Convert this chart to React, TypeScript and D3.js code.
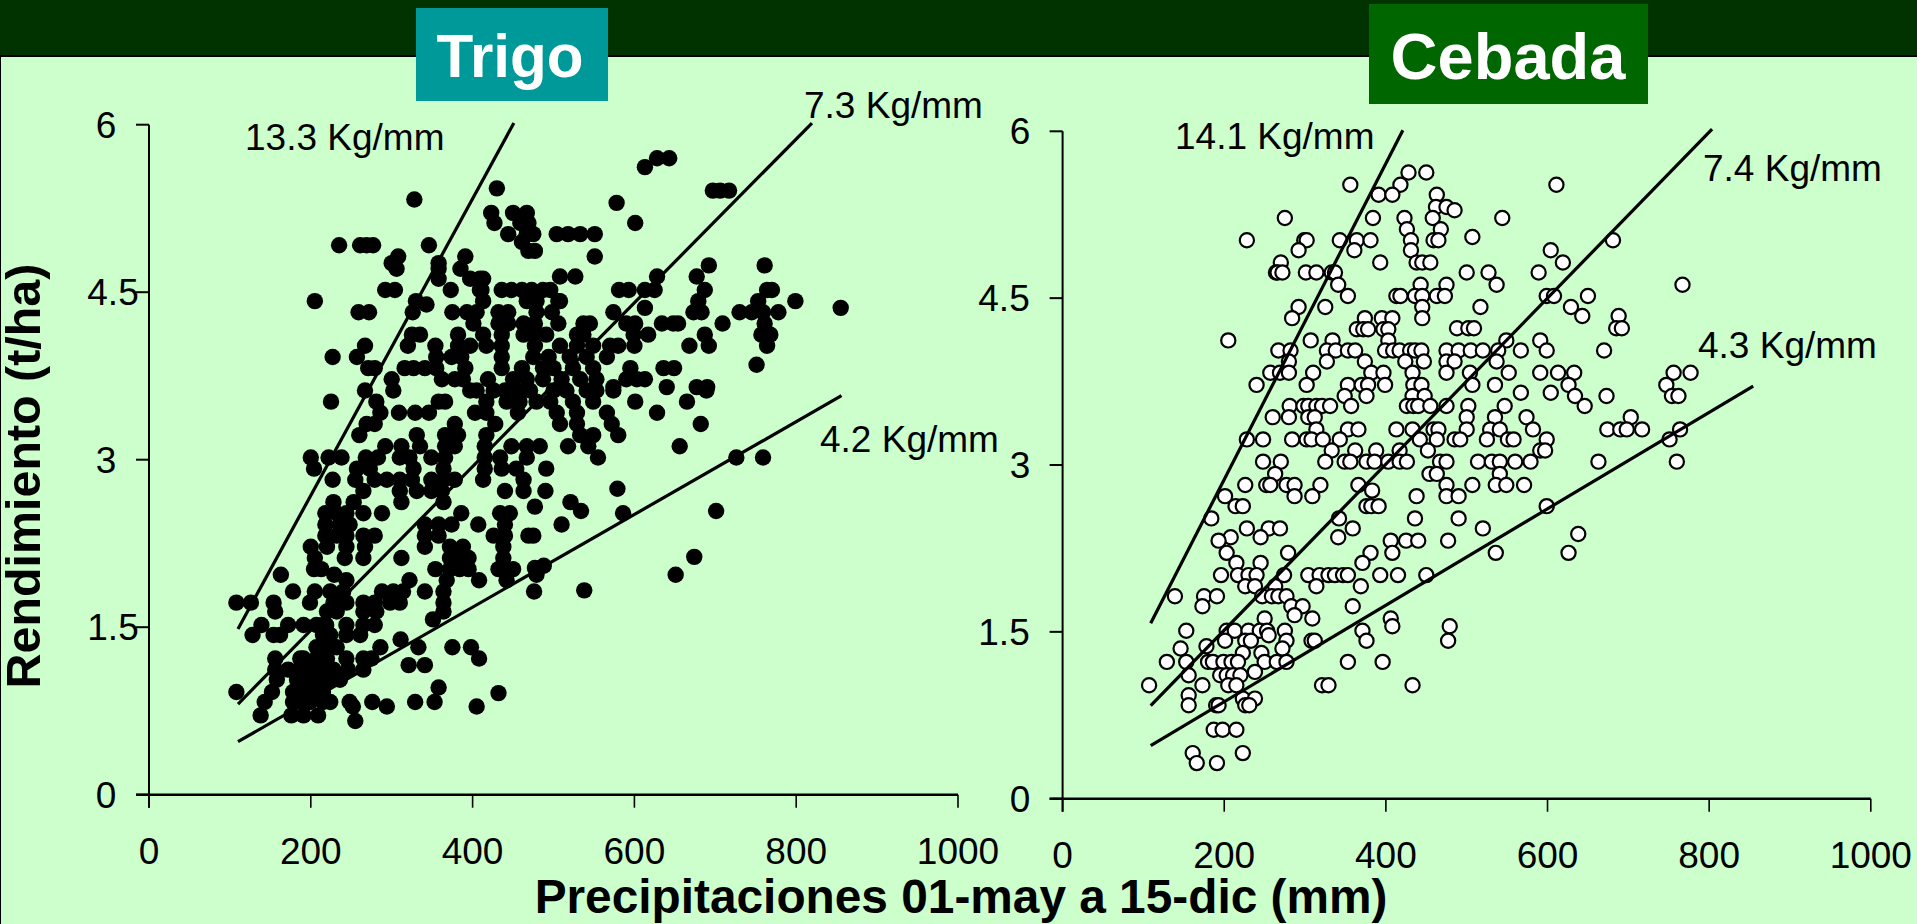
import React from 'react';
import * as d3 from 'd3';

const xTicks = [0, 200, 400, 600, 800, 1000];
const yTicks = [0, 1.5, 3, 4.5, 6];
const yTickLabels = ['0', '1.5', '3', '4.5', '6'];

// Each row: [yield t/ha, rainfall mm...]
const trigoRows: number[][] = [
  [5.7, 628, 643], [5.62, 613], [5.43, 430], [5.41, 697, 706, 717], [5.33, 328], [5.3, 578],
  [5.21, 423, 450, 467], [5.12, 427, 459, 469, 601], [5.02, 444, 467, 475, 504, 518, 533, 551],
  [4.95, 461], [4.92, 235, 261, 269, 277, 346], [4.87, 469, 477], [4.82, 308, 391, 551],
  [4.76, 300, 358], [4.74, 692, 761], [4.71, 306, 358, 385], [4.64, 508, 527, 628, 677],
  [4.62, 358, 397, 409, 413],
  [4.52, 292, 304, 373, 409, 411, 436, 448, 461, 473, 487, 496, 581, 593, 613, 625, 687, 764, 770],
  [4.42, 205, 330, 413, 467, 479, 508, 506, 679, 753, 799], [4.39, 343],
  [4.36, 613, 855], [4.32, 259, 272, 326, 375, 393, 405, 432, 444, 479, 498, 574, 673, 683, 730, 745, 759, 778],
  [4.22, 401, 432, 444, 463, 477, 506, 537, 545, 590, 601, 634, 648, 654, 709, 761],
  [4.12, 325, 335, 382, 413, 436, 463, 477, 491, 529, 537, 599, 617, 687, 757, 768],
  [4.02, 267, 320, 354, 382, 397, 417, 436, 477, 508, 529, 549, 570, 580, 600, 668, 692, 764],
  [3.92, 227, 257, 355, 374, 386, 436, 475, 494, 520, 541, 566],
  [3.85, 751],
  [3.82, 271, 279, 316, 327, 341, 355, 391, 436, 461, 487, 500, 524, 549, 595, 636, 649],
  [3.72, 300, 362, 378, 388, 419, 450, 467, 487, 510, 533, 553, 590, 603, 613],
  [3.65, 574, 640, 677, 690],
  [3.62, 267, 302, 397, 405, 426, 440, 454, 471, 500, 516, 541, 553, 574, 689],
  [3.52, 281, 358, 366, 225, 417, 442, 458, 479, 496, 524, 549, 601, 665],
  [3.42, 286, 309, 329, 346, 403, 417, 456, 504, 529, 566, 628],
  [3.32, 269, 279, 378, 428, 508, 529, 572, 682],
  [3.22, 260, 331, 366, 382, 417, 533, 549, 580],
  [3.12, 292, 312, 335, 366, 378, 415, 448, 467, 483, 518, 543, 656],
  [3.02, 200, 222, 238, 268, 283, 310, 322, 349, 366, 415, 434, 467, 555, 726, 759],
  [2.92, 204, 257, 273, 327, 364, 415, 436, 454, 491],
  [2.82, 227, 255, 279, 294, 310, 325, 349, 364, 378, 413, 463],
  [2.74, 579], [2.72, 265, 310, 331, 349, 362, 440, 463, 490],
  [2.62, 228, 253, 312, 364, 521], [2.54, 534, 701], [2.58, 477],
  [2.52, 218, 232, 244, 265, 288, 386, 434, 446, 586],
  [2.42, 218, 236, 248, 341, 358, 374, 407, 440, 510],
  [2.32, 218, 232, 244, 265, 279, 341, 358, 426, 440, 469, 475],
  [2.22, 200, 220, 244, 267, 341, 372, 388, 438],
  [2.13, 674],
  [2.12, 205, 242, 265, 312, 372, 384, 395, 438],
  [2.05, 488], [2.03, 477], [2.02, 204, 213, 354, 372, 384, 395, 432, 450],
  [1.97, 163, 229, 479, 651],
  [1.92, 244, 322, 368, 408, 442],
  [1.83, 538], [1.82, 178, 205, 224, 240, 288, 302, 314, 341, 364, 476],
  [1.72, 108, 126, 154, 199, 228, 244, 265, 279, 298, 310, 364],
  [1.64, 156, 220, 232, 265, 281, 364], [1.57, 351],
  [1.52, 139, 172, 191, 207, 215, 219, 244, 265, 279],
  [1.43, 128, 154, 162, 215, 224, 244, 261], [1.39, 311],
  [1.32, 207, 215, 220, 232, 286, 333, 375, 398],
  [1.22, 156, 187, 191, 207, 215, 220, 244, 265, 275, 408],
  [1.16, 321, 341],
  [1.12, 156, 172, 187, 195, 201, 213, 220, 228, 246, 265],
  [1.03, 158, 183, 187, 199, 207, 215, 224, 236],
  [0.96, 358], [0.91, 432],
  [0.92, 108, 152, 178, 187, 195, 211, 215],
  [0.83, 143, 178, 180, 191, 199, 215, 224, 248, 276, 329, 353],
  [0.79, 252, 294, 405],
  [0.71, 138, 176, 191, 209], [0.66, 255],
];

const cebadaRows: number[][] = [
  [5.63, 428, 450], [5.52, 356, 418, 611], [5.43, 391, 408, 463], [5.32, 462, 475], [5.29, 485],
  [5.22, 275, 384, 423, 458, 544], [5.12, 426, 468], [5.05, 507],
  [5.02, 228, 299, 302, 343, 364, 381, 431, 459, 465, 681], [4.93, 292, 361, 431, 604],
  [4.82, 270, 393, 438, 445, 455, 619], [4.73, 264, 266, 272, 301, 314, 333, 337, 500, 527, 589],
  [4.62, 341, 443, 475, 537, 767], [4.52, 353, 413, 418, 436, 445, 463, 473, 599, 608, 650],
  [4.42, 292, 325, 445, 517, 629], [4.34, 643, 688], [4.32, 284, 374, 395, 408, 445],
  [4.23, 488, 502, 509, 685, 692], [4.22, 364, 372, 378, 397, 403], [4.12, 205, 307, 334, 403, 549, 591],
  [4.03, 267, 282, 327, 338, 353, 362, 399, 409, 417, 430, 436, 444, 475, 490, 505, 520, 539, 567, 599, 670],
  [3.93, 280, 327, 374, 424, 447, 475, 485, 537],
  [3.83, 257, 269, 280, 310, 382, 397, 433, 475, 504, 552, 591, 613, 633, 756, 777],
  [3.72, 240, 302, 353, 370, 378, 399, 434, 444, 507, 535, 626, 747], [3.65, 567, 604],
  [3.62, 349, 376, 433, 448, 634, 673, 754, 762],
  [3.53, 281, 298, 304, 314, 321, 331, 357, 426, 434, 440, 455, 475, 502, 547, 646],
  [3.43, 260, 280, 304, 312, 500, 535, 574, 703],
  [3.32, 314, 353, 366, 413, 433, 459, 465, 500, 529, 541, 582, 674, 690, 698, 717, 764],
  [3.23, 228, 248, 284, 302, 308, 322, 343, 442, 463, 485, 492, 525, 551, 558, 599, 751],
  [3.13, 333, 362, 388, 417, 452, 591, 597],
  [3.03, 248, 270, 325, 349, 356, 376, 386, 403, 417, 426, 467, 475, 514, 531, 541, 560, 579, 663, 760],
  [2.92, 263, 454, 463, 541], [2.82, 226, 252, 257, 277, 287, 319, 366, 475, 507, 536, 549, 571],
  [2.77, 383], [2.72, 201, 287, 309, 438, 475, 490], [2.63, 214, 223, 376, 382, 391, 599],
  [2.52, 184, 342, 436, 490], [2.43, 228, 255, 269, 359, 520], [2.38, 638], [2.35, 208, 245, 341],
  [2.32, 193, 406, 425, 440, 477], [2.21, 203, 279, 381, 408, 536, 626], [2.12, 215, 245, 371],
  [2.01, 196, 217, 230, 240, 274, 304, 318, 329, 337, 347, 353, 393, 415, 450], [1.91, 226, 238, 263, 314, 369],
  [1.82, 139, 175, 191, 247, 259, 267, 277], [1.73, 173, 283, 297, 359], [1.65, 287], [1.62, 250, 309, 406],
  [1.55, 408, 479], [1.51, 153, 203, 213, 230, 244, 253, 275, 371], [1.47, 255],
  [1.42, 201, 226, 233, 277, 308, 312, 376, 477], [1.37, 178], [1.35, 146, 272], [1.31, 223, 246],
  [1.23, 129, 153, 180, 186, 199, 209, 217, 250, 265, 277, 353, 396], [1.14, 238], [1.11, 156, 195, 203, 211, 220],
  [1.02, 107, 173, 205, 215, 321, 329, 433], [0.93, 156], [0.9, 223, 238], [0.84, 156, 190, 193, 226, 231],
  [0.62, 187, 198, 215], [0.41, 161, 223], [0.32, 166, 191],
];

// Trend lines: [x1, y1, x2, y2]
const trigoLines = [[110, 1.484, 451, 6.015], [110, 0.812, 819.5, 6.015], [110, 0.475, 856, 3.573]];
const cebadaLines = [[109, 1.577, 421, 6.01], [109, 0.836, 803.6, 6.02], [109, 0.477, 854.5, 3.71]];
const trigoSlopes = ['13.3 Kg/mm', '7.3 Kg/mm', '4.2 Kg/mm'];
const cebadaSlopes = ['14.1 Kg/mm', '7.4 Kg/mm', '4.3 Kg/mm'];
const trigoSlopePos = [[245, 150], [804, 118], [820, 452]];
const cebadaSlopePos = [[1175, 149], [1703, 181], [1698, 358]];

const FONT = '"Liberation Sans", Arial, sans-serif';

function Panel(p: {
  x0: number; x1: number; y0: number; y1: number; rows: number[][]; lines: number[][];
  slopes: string[]; slopePos: number[][]; dotFill: string; r: number; sw: number; xLabelY: number;
  yLabelX: number; decimalLabelShift: number;
}) {
  const x = d3.scaleLinear().domain([0, 1000]).range([p.x0, p.x1]);
  const y = d3.scaleLinear().domain([0, 6]).range([p.y0, p.y1]);
  const pts = p.rows.flatMap((row) => row.slice(1).map((v) => [v, row[0]]));
  return (
    <g>
      {pts.map((d, i) => (
        <circle key={i} cx={x(d[0])} cy={y(d[1])} r={p.r} fill={p.dotFill} stroke="#000" strokeWidth={p.sw} />
      ))}
      {p.lines.map((l, i) => (
        <line key={i} x1={x(l[0])} y1={y(l[1])} x2={x(l[2])} y2={y(l[3])} stroke="#000" strokeWidth={3.2} />
      ))}
      <line x1={p.x0} x2={p.x0} y1={p.y1} y2={p.y0 + 13} stroke="#000" strokeWidth={2} />
      <line x1={p.x0 - 13} x2={p.x1} y1={p.y0} y2={p.y0} stroke="#000" strokeWidth={2.4} />
      {yTicks.map((t) => (
        <line key={t} x1={p.x0 - 13} x2={p.x0} y1={y(t)} y2={y(t)} stroke="#000" strokeWidth={2} />
      ))}
      {xTicks.map((t) => (
        <line key={t} x1={x(t)} x2={x(t)} y1={p.y0} y2={p.y0 + 13} stroke="#000" strokeWidth={1.6} />
      ))}
      {xTicks.map((t) => (
        <text key={t} x={x(t)} y={p.xLabelY} textAnchor="middle" fontSize={37} fontFamily={FONT} fill="#000">{t}</text>
      ))}
      {yTicks.map((t, i) => (
        <text key={t} x={p.yLabelX + (yTickLabels[i].length > 1 ? p.decimalLabelShift : 0)} y={y(t) + 13} textAnchor="middle" fontSize={37} fontFamily={FONT} fill="#000">{yTickLabels[i]}</text>
      ))}
      {p.slopes.map((s, i) => (
        <text key={s} x={p.slopePos[i][0]} y={p.slopePos[i][1]} fontSize={37} fontFamily={FONT} fill="#000">{s}</text>
      ))}
    </g>
  );
}

export default function App() {
  return (
    <svg width={1917} height={924} style={{ position: 'absolute', left: 0, top: 0, display: 'block' }}>
      <rect width={1917} height={924} fill="#CCFFCC" />
      <rect width={1917} height={55} fill="#003300" />
      <rect y={55} width={1917} height={2} fill="#000" />
      <rect y={55} width={1} height={869} fill="#000" />
      <Panel x0={149} x1={958} y0={794.7} y1={124.7} rows={trigoRows} lines={trigoLines} slopes={trigoSlopes}
        slopePos={trigoSlopePos} dotFill="#000" r={8.2} sw={0} xLabelY={864} yLabelX={106} decimalLabelShift={7} />
      <Panel x0={1062.6} x1={1870.8} y0={798.7} y1={131.3} rows={cebadaRows} lines={cebadaLines} slopes={cebadaSlopes}
        slopePos={cebadaSlopePos} dotFill="#fff" r={7.1} sw={2.2} xLabelY={868} yLabelX={1020} decimalLabelShift={-16} />
      <rect x={416} y={8} width={192} height={93} fill="#009999" />
      <text x={510} y={77} textAnchor="middle" fontSize={61} textLength={147} lengthAdjust="spacingAndGlyphs" fontWeight="bold" fontFamily={FONT} fill="#fff">Trigo</text>
      <rect x={1369} y={4} width={279} height={100} fill="#006600" />
      <text x={1508} y={79} textAnchor="middle" fontSize={65} fontWeight="bold" fontFamily={FONT} fill="#fff">Cebada</text>
      <text x={961} y={913} textAnchor="middle" fontSize={47.8} fontWeight="bold" fontFamily={FONT} fill="#000">Precipitaciones 01-may a 15-dic (mm)</text>
      <text transform="translate(40,476) rotate(-90)" textAnchor="middle" fontSize={48.4} fontWeight="bold" fontFamily={FONT} fill="#000">Rendimiento (t/ha)</text>
    </svg>
  );
}
